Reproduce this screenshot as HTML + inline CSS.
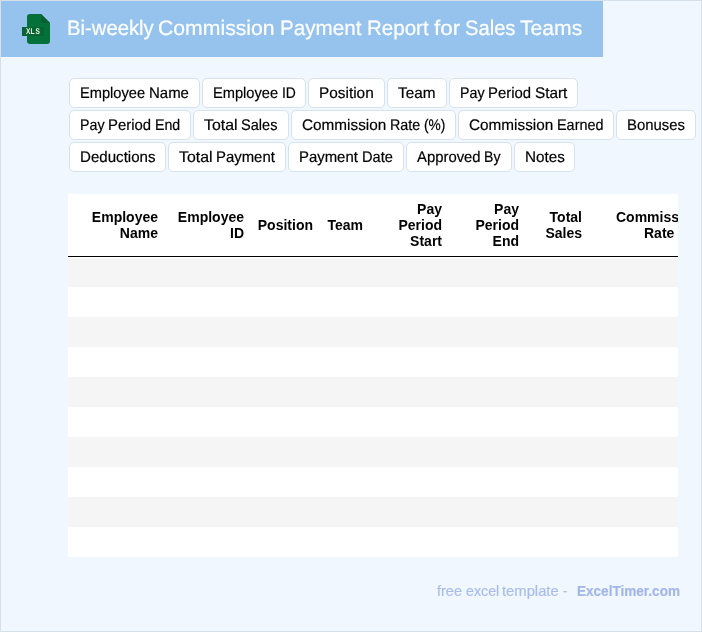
<!DOCTYPE html>
<html lang="en">
<head>
<meta charset="utf-8">
<title>Bi-weekly Commission Payment Report for Sales Teams</title>
<style>
*{box-sizing:border-box;}
html,body{margin:0;padding:0;}
body{width:702px;height:632px;overflow:hidden;background:#f0f7ff;font-family:"Liberation Sans",sans-serif;position:relative;}
.frame{position:absolute;left:0;top:0;width:702px;height:632px;border:1px solid #d6e0ea;pointer-events:none;z-index:5;}
.head{position:absolute;left:1px;top:1px;width:602px;height:56px;background:#95c3ee;}
.head svg{position:absolute;left:21px;top:13px;}
.head h1{position:absolute;left:65.5px;top:0;margin:0;height:56px;line-height:56px;font-weight:400;font-size:20.95px;color:#fff;white-space:nowrap;-webkit-text-stroke:0.2px #fff;text-rendering:geometricPrecision;}
.w{display:inline-block;white-space:pre;vertical-align:top;transform-origin:0 50%;}
.tags{position:absolute;left:68px;top:77px;width:634px;}
.row{display:flex;height:32px;}
.tag{display:block;flex:none;height:30px;line-height:30px;border:1px solid #d6e2ec;border-radius:5px;background:#fff;font-size:15.36px;color:#000;padding:0 0 0 10px;margin:1px;white-space:nowrap;-webkit-text-stroke:0.2px #000;text-rendering:geometricPrecision;}
.tbl{position:absolute;left:68px;top:194px;width:610px;height:363px;background:#fff;overflow:hidden;}
table{border-collapse:separate;border-spacing:0;table-layout:fixed;width:900px;}
th{height:63px;border-bottom:1px solid #000;font-size:14px;font-weight:700;color:#000;text-align:right;vertical-align:middle;line-height:16px;padding:0 4px 0 0;white-space:nowrap;}
td{height:30px;padding:0;}
tbody tr:first-child td{border-top:1px solid #fff;}
tbody tr:nth-child(odd) td{background:#f5f5f5;}
.foot{position:absolute;left:437px;top:582px;font-size:14.8px;color:#a9bdea;white-space:nowrap;line-height:18px;-webkit-text-stroke:0.2px;}
.foot b{position:absolute;left:140px;top:0;color:#a3b6ea;}
</style>
</head>
<body>
<div class="head">
<svg width="28" height="30" viewBox="0 0 28 30"><path d="M8 0h11l9 9v18a3 3 0 0 1-3 3H8a3 3 0 0 1-3-3V3a3 3 0 0 1 3-3z" fill="#04703a"/><path d="M19 0l9 9h-9z" fill="#066031"/><rect x="0" y="13" width="22" height="9" fill="#076534"/><g transform="translate(3.8,20.4) scale(0.78,1)"><text x="0.3 6.1 12.6" y="0" font-family="Liberation Sans, sans-serif" font-size="8.4" font-weight="700" fill="#e9f1e4" text-rendering="geometricPrecision">XLS</text></g></svg>
<h1><span class="w" style="width:91.91px;transform:scaleX(0.9684)">Bi-weekly </span><span class="w" style="width:121.79px;transform:scaleX(1.0125)">Commission </span><span class="w" style="width:86.59px;transform:scaleX(0.9855)">Payment </span><span class="w" style="width:66.79px;transform:scaleX(0.9809)">Report </span><span class="w" style="width:31.25px;transform:scaleX(1.0681)">for </span><span class="w" style="width:55.56px;transform:scaleX(0.9625)">Sales </span><span class="w" style="width:62.22px;transform:scaleX(1.0089)">Teams</span></h1>
</div>
<div class="tags">
<div class="row"><span class="tag" style="width:131px"><span class="w" style="width:68.83px;transform:scaleX(0.9531)">Employee </span><span class="w" style="width:39.97px;transform:scaleX(0.9752)">Name</span></span><span class="tag" style="width:104px"><span class="w" style="width:68.83px;transform:scaleX(0.9531)">Employee </span><span class="w" style="width:13.92px;transform:scaleX(0.9055)">ID</span></span><span class="tag" style="width:77px"><span class="w" style="width:54.72px;transform:scaleX(1.0011)">Position</span></span><span class="tag" style="width:60px"><span class="w" style="width:37.50px;transform:scaleX(0.9983)">Team</span></span><span class="tag" style="width:129px"><span class="w" style="width:28.25px;transform:scaleX(0.9268)">Pay </span><span class="w" style="width:46.80px;transform:scaleX(0.9701)">Period </span><span class="w" style="width:32.33px;transform:scaleX(0.9966)">Start</span></span></div>
<div class="row"><span class="tag" style="width:122px"><span class="w" style="width:28.25px;transform:scaleX(0.9268)">Pay </span><span class="w" style="width:46.80px;transform:scaleX(0.9701)">Period </span><span class="w" style="width:25.27px;transform:scaleX(0.9240)">End</span></span><span class="tag" style="width:96px"><span class="w" style="width:37.22px;transform:scaleX(1.0323)">Total </span><span class="w" style="width:36.41px;transform:scaleX(0.9475)">Sales</span></span><span class="tag" style="width:165px"><span class="w" style="width:87.97px;transform:scaleX(0.9970)">Commission </span><span class="w" style="width:33.98px;transform:scaleX(0.9326)">Rate </span><span class="w" style="width:21.34px;transform:scaleX(0.8934)">(%)</span></span><span class="tag" style="width:156px"><span class="w" style="width:87.97px;transform:scaleX(0.9970)">Commission </span><span class="w" style="width:46.47px;transform:scaleX(0.9382)">Earned</span></span><span class="tag" style="width:80px"><span class="w" style="width:57.89px;transform:scaleX(0.9684)">Bonuses</span></span></div>
<div class="row"><span class="tag" style="width:97px"><span class="w" style="width:75.52px;transform:scaleX(0.9827)">Deductions</span></span><span class="tag" style="width:118px"><span class="w" style="width:37.22px;transform:scaleX(1.0323)">Total </span><span class="w" style="width:58.83px;transform:scaleX(0.9704)">Payment</span></span><span class="tag" style="width:116px"><span class="w" style="width:62.56px;transform:scaleX(0.9704)">Payment </span><span class="w" style="width:30.86px;transform:scaleX(0.9509)">Date</span></span><span class="tag" style="width:106px"><span class="w" style="width:67.33px;transform:scaleX(0.9674)">Approved </span><span class="w" style="width:16.44px;transform:scaleX(0.9164)">By</span></span><span class="tag" style="width:61px"><span class="w" style="width:39.86px;transform:scaleX(0.9934)">Notes</span></span></div>
</div>
<div class="tbl">
<table>
<thead><tr><th style="width:94px">Employee<br>Name</th><th style="width:86px">Employee<br>ID</th><th style="width:69px">Position</th><th style="width:50px">Team</th><th style="width:79px">Pay<br>Period<br>Start</th><th style="width:77px">Pay<br>Period<br>End</th><th style="width:63px">Total<br>Sales</th><th style="width:118px">Commission<br>Rate (%)</th><th></th></tr></thead>
<tbody>
<tr><td colspan="9"></td></tr><tr><td colspan="9"></td></tr><tr><td colspan="9"></td></tr><tr><td colspan="9"></td></tr><tr><td colspan="9"></td></tr>
<tr><td colspan="9"></td></tr><tr><td colspan="9"></td></tr><tr><td colspan="9"></td></tr><tr><td colspan="9"></td></tr><tr><td colspan="9"></td></tr>
</tbody>
</table>
</div>
<div class="foot"><span><span class="w" style="width:28.58px;transform:scaleX(0.9810)">free </span><span class="w" style="width:36.88px;transform:scaleX(0.9638)">excel </span><span class="w" style="width:60.27px;transform:scaleX(0.9989)">template </span><span class="w" style="width:3.98px;transform:scaleX(0.8070)">-</span></span><b><span class="w" style="width:103.00px;transform:scaleX(0.9162)">ExcelTimer.com</span></b></div>
<div class="frame"></div>
</body>
</html>
